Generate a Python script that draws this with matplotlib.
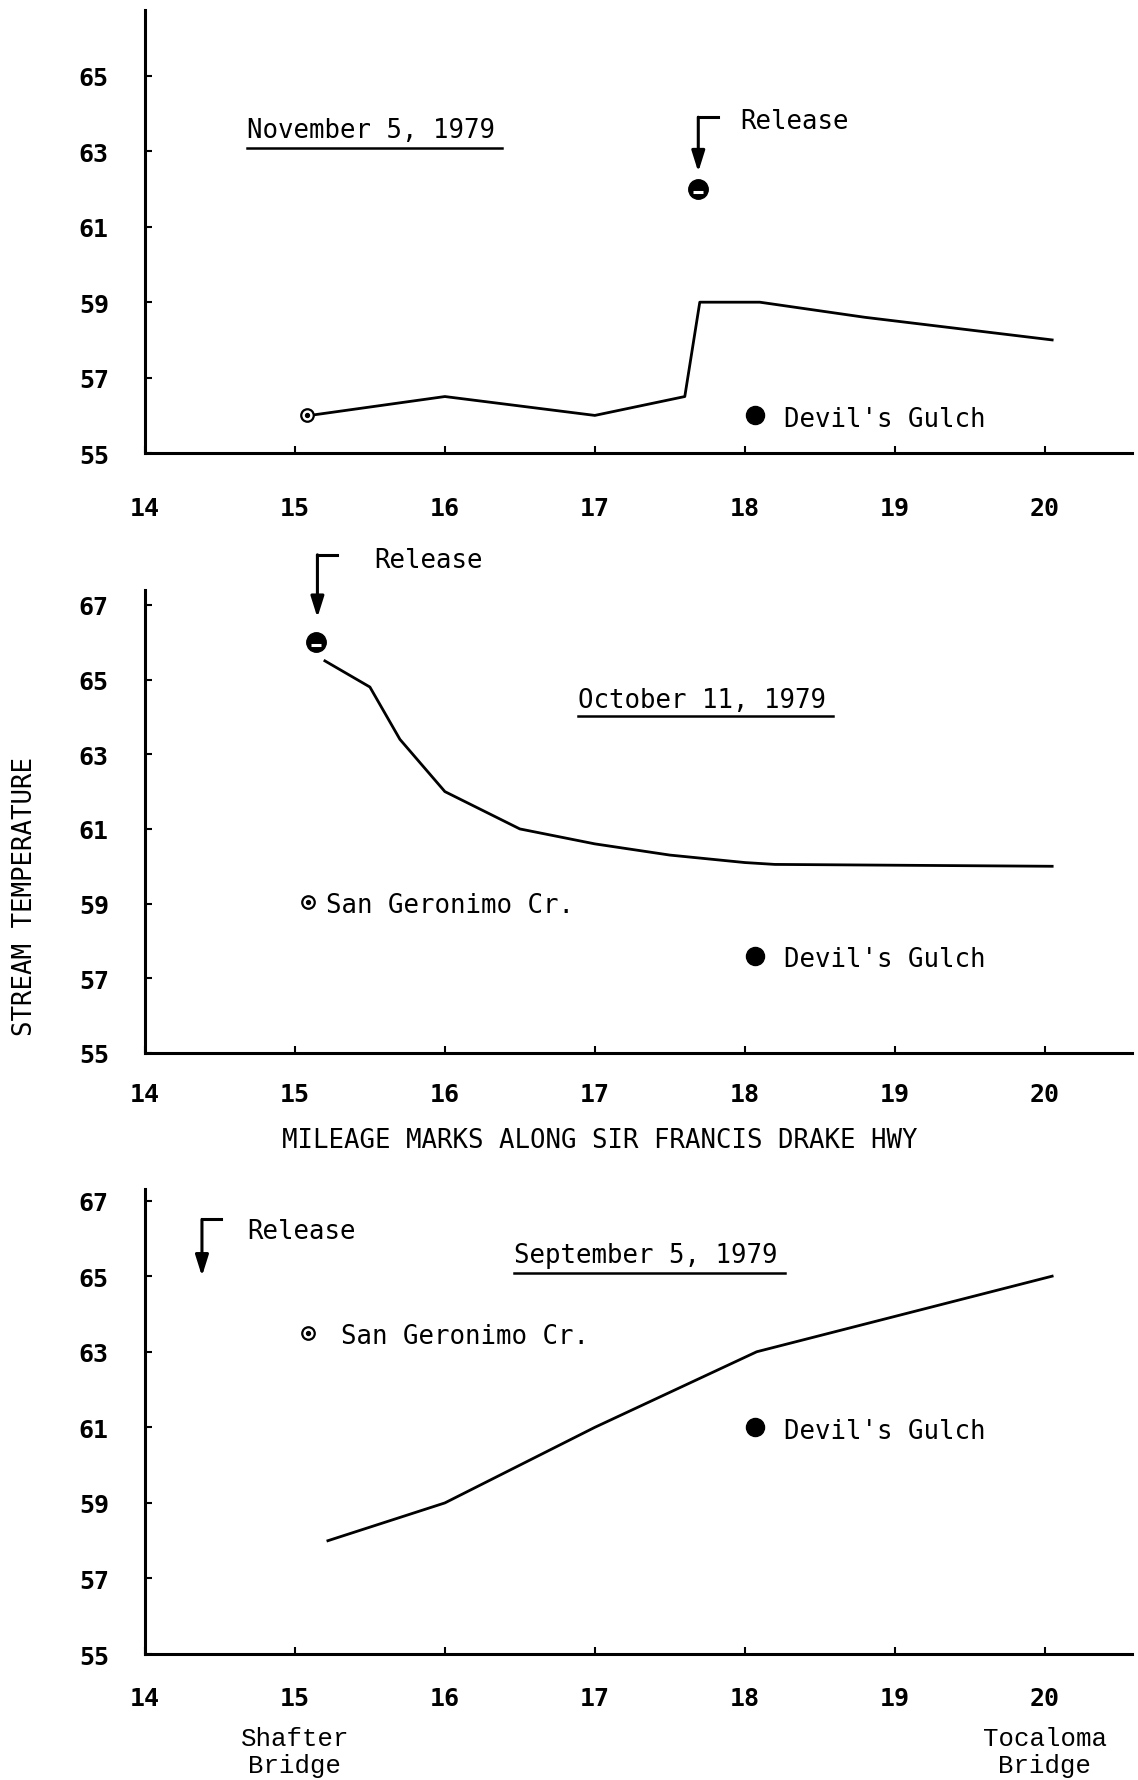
import matplotlib
matplotlib.use("Agg")
import matplotlib.pyplot as plt

# stream temperature along the highway, one run per survey date
nov_miles = [15.1, 16.0, 17.0, 17.6, 17.7, 18.1, 18.8, 20.05]
nov_temp = [56.0, 56.5, 56.0, 56.5, 59.0, 59.0, 58.6, 58.0]

oct_miles = [15.2, 15.5, 15.7, 16.0, 16.5, 17.0, 17.5, 18.0, 18.2, 20.05]
oct_temp = [65.5, 64.8, 63.4, 62.0, 61.0, 60.6, 60.3, 60.1, 60.05, 60.0]

sep_miles = [15.22, 16.0, 17.0, 18.08, 20.05]
sep_temp = [58.0, 59.0, 61.0, 63.0, 65.0]

# single readings (nov, oct, sep)
release_mile = [17.69, 15.14]
release_temp = [62.0, 66.0]
geronimo_mile = [15.08, 15.09, 15.09]
geronimo_temp = [56.0, 59.05, 63.5]
devils_mile = [18.07, 18.07, 18.07]
devils_temp = [56.0, 57.6, 61.0]

x_ticks = [14, 15, 16, 17, 18, 19, 20]
y_ticks = [55, 57, 59, 61, 63, 65, 67]

plt.rcParams['font.family'] = ['DejaVu Sans Mono']
FS = 18.5


def style(ax, ytop, xpad):
    ax.set_xlim(14, 20.58)
    ax.set_ylim(55, ytop)
    ax.spines['top'].set_visible(False)
    ax.spines['right'].set_visible(False)
    ax.spines['left'].set_linewidth(2.2)
    ax.spines['bottom'].set_linewidth(2.2)
    ax.set_xticks(x_ticks)
    ax.set_yticks([t for t in y_ticks if t <= ytop])
    ax.tick_params(direction='in', length=5, width=1.5, labelsize=18)
    ax.tick_params(axis='x', pad=xpad)
    ax.tick_params(axis='y', pad=26)
    for lab in ax.get_xticklabels() + ax.get_yticklabels():
        lab.set_fontweight('bold')


def label(ax, x, y, s, nudge=-2.5):
    # nudge down a little so the letters sit level with the marker
    ax.annotate(s, (x, y), xytext=(0, nudge), textcoords='offset points',
                fontsize=FS, va='center', annotation_clip=False)


def release(ax, x, y0, y1, tx, ty):
    ax.plot([x, x + 0.13], [y0, y0], color='k', lw=2.2, clip_on=False)
    ax.annotate('', xy=(x, y1), xytext=(x, y0), annotation_clip=False,
                arrowprops=dict(arrowstyle='-|>,head_length=0.7,head_width=0.22',
                                color='k', lw=2.2, mutation_scale=18,
                                shrinkA=0, shrinkB=0))
    label(ax, tx, ty, 'Release')


def release_dot(ax, i):
    ax.plot(release_mile[i], release_temp[i], 'o', ms=14, color='k', zorder=5)
    ax.plot(release_mile[i], release_temp[i] - 0.08, '_', ms=7, mew=2.2,
            color='white', zorder=6)


def date_title(ax, x, y, s, xend, yu):
    label(ax, x, y, s, nudge=0)
    ax.plot([x, xend], [yu, yu], color='k', lw=1.8)


def geronimo(ax, i, text=None, dx=0.13):
    ax.plot(geronimo_mile[i], geronimo_temp[i], 'o', ms=9, mfc='white',
            mec='k', mew=1.6, zorder=5)
    ax.plot(geronimo_mile[i], geronimo_temp[i], 'o', ms=2.8, color='k', zorder=6)
    if text:
        label(ax, geronimo_mile[i] + dx, geronimo_temp[i], text)


def devils(ax, i):
    ax.plot(devils_mile[i], devils_temp[i], 'o', ms=13, color='k')
    label(ax, devils_mile[i] + 0.19, devils_temp[i], "Devil's Gulch")


fig = plt.figure(figsize=(11.38, 17.81), dpi=100)
ax1 = fig.add_axes([0.1274, 0.745, 0.867, 0.249])
ax2 = fig.add_axes([0.1274, 0.4082, 0.867, 0.26])
ax3 = fig.add_axes([0.1274, 0.0707, 0.867, 0.261])

# November
style(ax1, 66.75, 31)
ax1.plot(nov_miles, nov_temp, color='k', lw=2)
geronimo(ax1, 0)
release_dot(ax1, 0)
release(ax1, 17.69, 63.9, 62.45, 17.97, 63.9)
devils(ax1, 0)
date_title(ax1, 14.68, 63.55, 'November 5, 1979', 16.38, 63.08)

# October
style(ax2, 67.4, 21)
ax2.plot(oct_miles, oct_temp, color='k', lw=2)
release_dot(ax2, 1)
release(ax2, 15.15, 68.34, 66.66, 15.53, 68.29)
geronimo(ax2, 1, 'San Geronimo Cr.', dx=0.12)
devils(ax2, 1)
date_title(ax2, 16.89, 64.45, 'October 11, 1979', 18.59, 64.02)

# September
style(ax3, 67.3, 23)
ax3.plot(sep_miles, sep_temp, color='k', lw=2)
release(ax3, 14.38, 66.5, 65.0, 14.68, 66.3)
geronimo(ax3, 2, 'San Geronimo Cr.', dx=0.22)
devils(ax3, 2)
date_title(ax3, 16.46, 65.55, 'September 5, 1979', 18.27, 65.08)

tr = ax3.get_xaxis_transform()
ax3.text(15.0, -0.21, 'Shafter\nBridge', transform=tr, ha='center',
         va='center', fontsize=FS, family='Liberation Mono', linespacing=1.15)
ax3.text(20.0, -0.21, 'Tocaloma\nBridge', transform=tr, ha='center',
         va='center', fontsize=FS, family='Liberation Mono', linespacing=1.15)

fig.text(25 / 1138, 1 - 897 / 1781, 'STREAM TEMPERATURE', rotation=90,
         ha='center', va='center', fontsize=FS)
fig.text(600 / 1138, 1 - 1141 / 1781, 'MILEAGE MARKS ALONG SIR FRANCIS DRAKE HWY',
         ha='center', va='center', fontsize=FS)

fig.savefig('out.png', dpi=100)
